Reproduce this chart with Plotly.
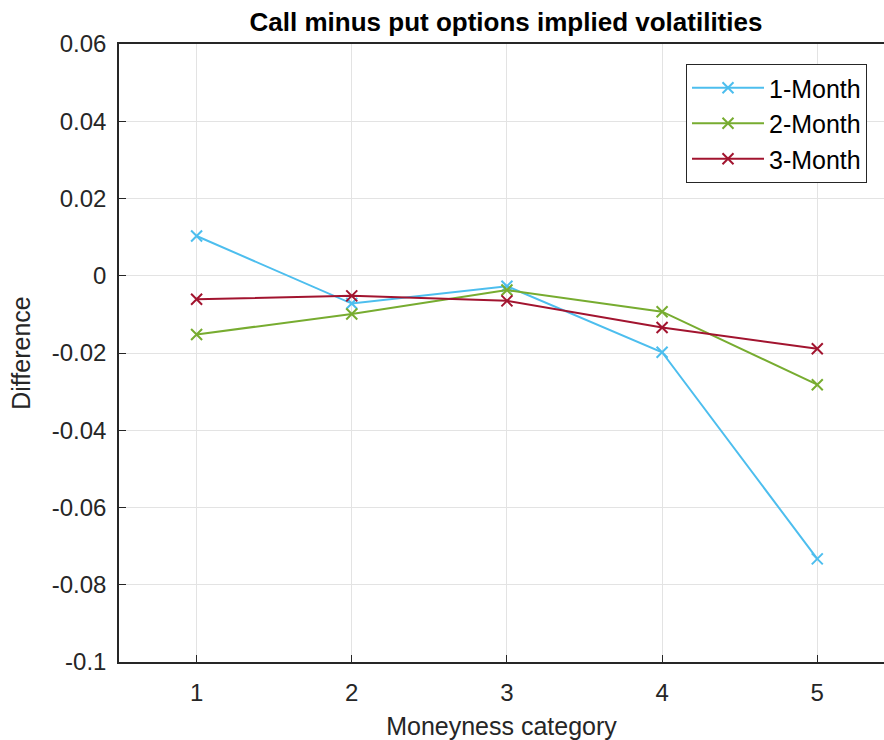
import plotly.graph_objects as go

categories = [1, 2, 3, 4, 5]
month1 = [0.0103, -0.0072, -0.0027, -0.0198, -0.0733]
month2 = [-0.0152, -0.0099, -0.0037, -0.0093, -0.0282]
month3 = [-0.0061, -0.0052, -0.0065, -0.0134, -0.0189]
series_names = ["1-Month", "2-Month", "3-Month"]
colors = ["#4DBEEE", "#77AC30", "#A2142F"]
ytick_vals = [0.06, 0.04, 0.02, 0, -0.02, -0.04, -0.06, -0.08, -0.1]
ytick_text = ["0.06", "0.04", "0.02", "0", "-0.02", "-0.04", "-0.06", "-0.08", "-0.1"]

fig = go.Figure()
for i, (name, vals, c) in enumerate(zip(series_names, [month1, month2, month3], colors)):
    fig.add_trace(go.Scatter(
        x=categories, y=vals, name=name, mode="lines+markers",
        line=dict(color=c, width=2),
        marker=dict(symbol="x-thin", size=11, line=dict(color=c, width=2), color=c),
        legendgroup=f"g{i}",
    ))

font = "Liberation Sans, Arial, sans-serif"
fig.update_layout(
    width=884, height=740,
    margin=dict(l=119, r=0, t=44, b=78),
    paper_bgcolor="white", plot_bgcolor="white",
    title=dict(text="<b>Call minus put options implied volatilities</b>",
               x=506 / 884, xanchor="center", y=1 - 22 / 740, yanchor="middle",
               font=dict(family=font, size=26, color="black")),
    font=dict(family=font, color="#262626"),
    xaxis=dict(range=[0.5, 5.43], tickvals=categories, ticks="inside", ticklen=7,
               tickcolor="#262626", showline=True, linecolor="#262626", linewidth=1.5,
               mirror=True, showgrid=True, gridcolor="#e3e3e3", gridwidth=1,
               zeroline=False, tickfont=dict(size=24, color="#262626"),
               ticklabelstandoff=8,
               title=dict(text="Moneyness category", font=dict(size=25, color="#262626"), standoff=13)),
    yaxis=dict(range=[-0.1, 0.06], tickvals=ytick_vals, ticktext=ytick_text, ticks="inside",
               ticklen=7, tickcolor="#262626", showline=True, linecolor="#262626", linewidth=1.5,
               mirror=False, showgrid=True, gridcolor="#e3e3e3", gridwidth=1, zeroline=False,
               tickfont=dict(size=24, color="#262626"), ticklabelstandoff=6,
               title=dict(text="Difference", font=dict(size=25, color="#262626"), standoff=14)),
    legend=dict(x=(686 - 119) / 765, y=(662 - 64) / 618, xanchor="left", yanchor="top",
                bgcolor="white", bordercolor="#262626", borderwidth=1,
                font=dict(size=25, color="black", family=font), tracegroupgap=0,
                itemwidth=72),
    showlegend=True,
)

fig.write_html("out.html")
